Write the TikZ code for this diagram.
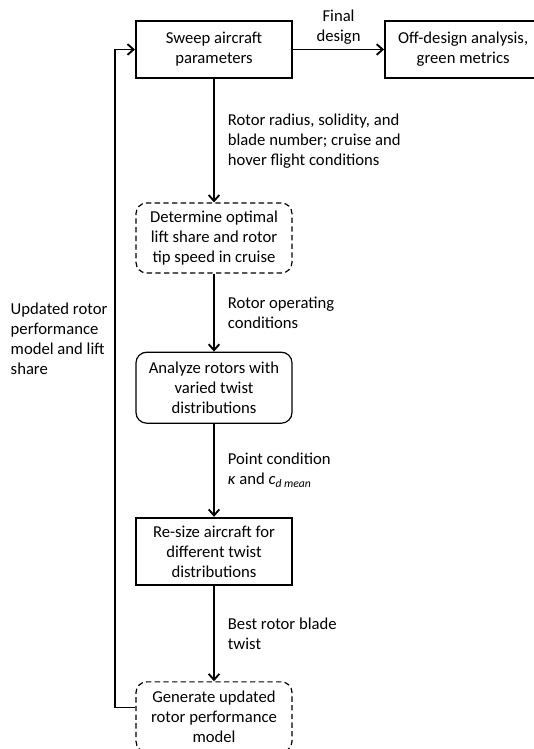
\documentclass[tikz,border=0pt]{standalone}
\usepackage{fontspec}
\setmainfont{Carlito}
\usetikzlibrary{positioning, arrows.meta}

\begin{document}
\begin{tikzpicture}[
    x=0.75pt, y=-0.75pt,
    font=\fontsize{12.5}{15}\selectfont,
    >={Straight Barb[length=4.5pt,width=8pt]},
    flow/.style={->, line width=1.4pt},
    solidbox/.style={rectangle, draw, line width=1.6pt, minimum width=117pt, align=center},
    softbox/.style={rectangle, draw, rounded corners=8pt, line width=0.9pt, minimum width=117pt, align=center},
    tentbox/.style={softbox, dash pattern=on 4pt off 2.5pt},
    edgetext/.style={right, align=left, xshift=6.4pt}
]
    \useasboundingbox (0,0) rectangle (533,749);

    % Boxes
    \node[solidbox, minimum height=42.75pt] (sweep) at (214,49.5) {Sweep aircraft\\parameters};
    \node[solidbox, minimum height=42.75pt] (offdesign) [right=68.25pt of sweep] {Off-design analysis,\\green metrics};
    \node[tentbox, minimum height=52.5pt] (liftshare) [below=92.5pt of sweep] {Determine optimal\\lift share and rotor\\tip speed in cruise};
    \node[softbox, minimum height=53.25pt] (twist) [below=58.5pt of liftshare] {Analyze rotors with\\varied twist\\distributions};
    \node[solidbox, minimum height=50.25pt] (resize) [below=69.75pt of twist] {Re-size aircraft for\\different twist\\distributions};
    \node[tentbox, minimum height=52.5pt] (perfmodel) [below=71.5pt of resize] {Generate updated\\rotor performance\\model};

    % Connections
    \draw[flow] (sweep) -- node[above, align=center] {Final\\design} (offdesign);
    \draw[flow] (sweep) -- node[edgetext] {Rotor radius, solidity, and\\blade number; cruise and\\hover flight conditions} (liftshare);
    \draw[flow] (liftshare) -- node[edgetext] {Rotor operating\\conditions} (twist);
    \draw[flow] (twist) -- node[edgetext] {Point condition\\\textit{κ} and \textit{c}\textsubscript{\textit{d mean}}} (resize);
    \draw[flow] (resize) -- node[edgetext] {Best rotor blade\\twist} (perfmodel);

    % Feedback loop
    \draw[flow] ([yshift=7pt]perfmodel.west) -- ++(-20,0) |- node[pos=0.28, left, align=left, xshift=-2pt] {Updated rotor\\performance\\model and lift\\share} (sweep.west);
\end{tikzpicture}
\end{document}
